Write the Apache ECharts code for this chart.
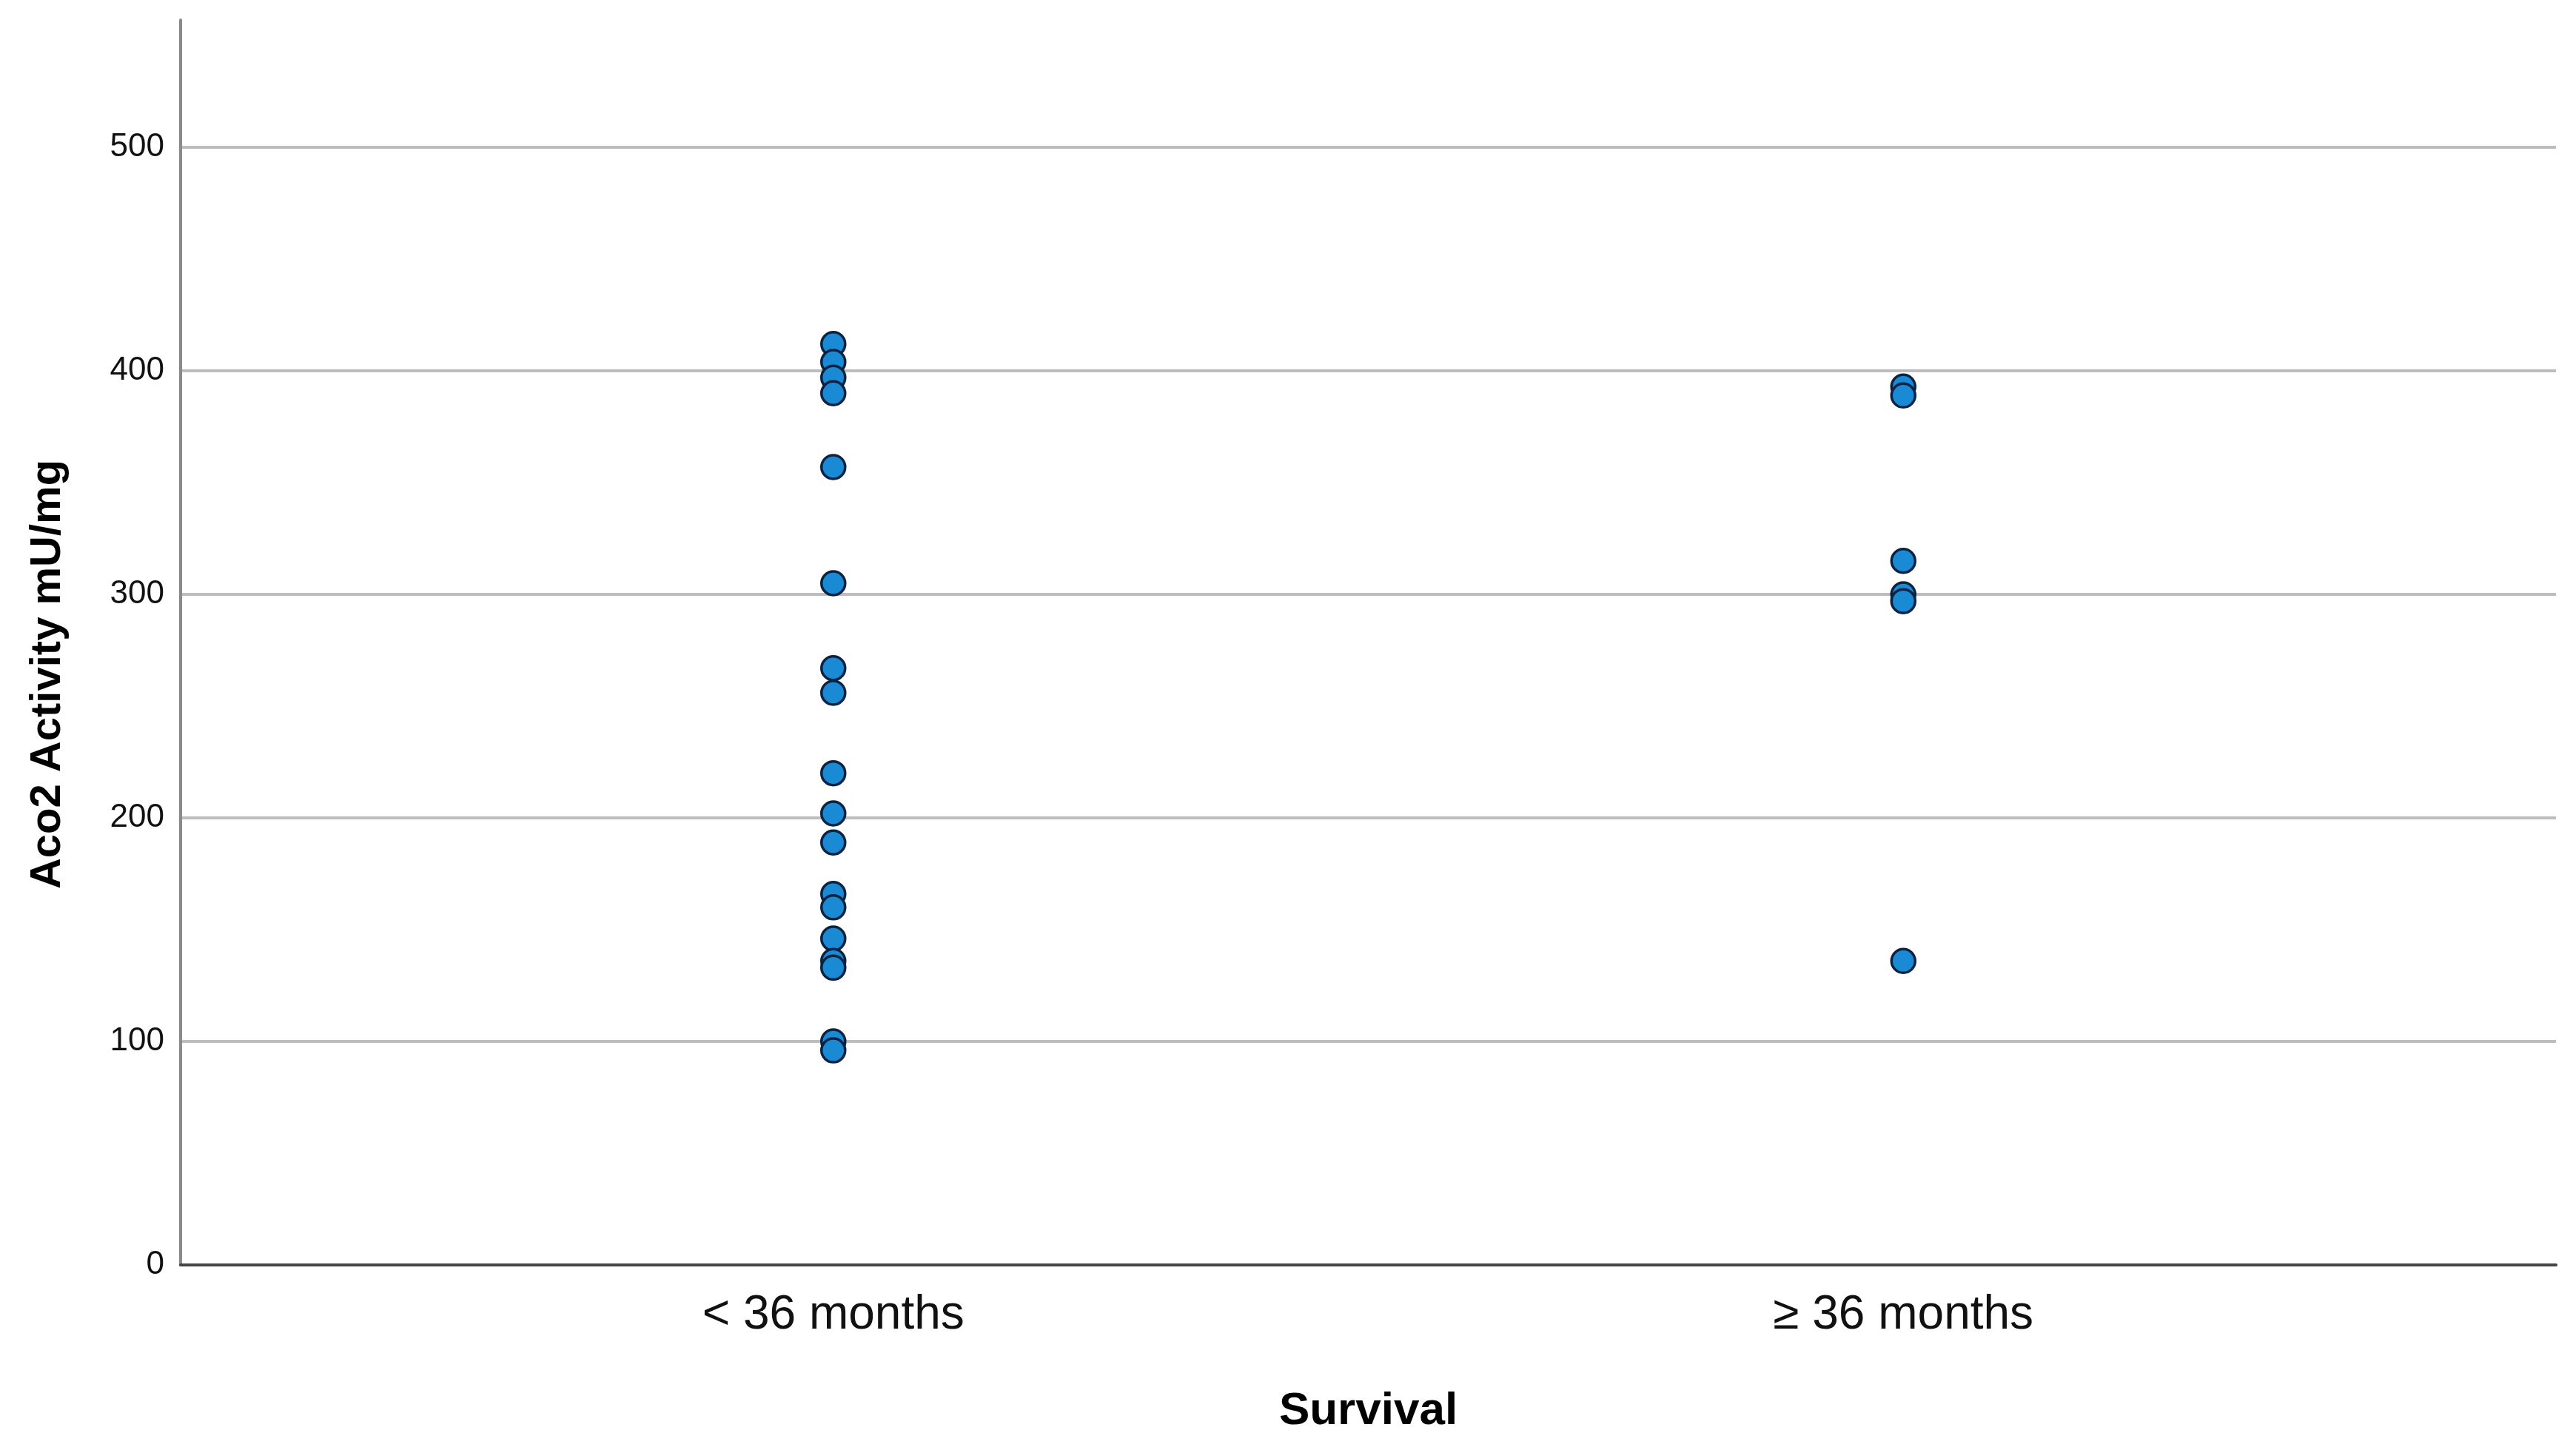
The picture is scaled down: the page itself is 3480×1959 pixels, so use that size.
<!DOCTYPE html>
<html>
<head>
<meta charset="utf-8">
<script src="https://cdn.jsdelivr.net/npm/echarts@6/dist/echarts.min.js"></script>
<style>
html,body{margin:0;padding:0;background:#fff;}
#chart{width:3480px;height:1959px;}
</style>
</head>
<body>
<div id="chart"></div>
<script>
// Data
const categories = ['< 36 months', '\u2265 36 months'];
const shortSurvival = [412, 404, 397, 390, 357, 305, 267, 256, 220, 202, 189, 166, 160, 146, 136, 133, 100, 96];
const longSurvival = [393, 389, 315, 300, 297, 136];
const yTicks = [0, 100, 200, 300, 400, 500];

const groups = [shortSurvival, longSurvival];
const points = [];
groups.forEach((vals, gi) => vals.forEach(v => points.push([gi + 1, v])));

const font = "'Liberation Sans', Arial, sans-serif";
const chart = echarts.init(document.getElementById('chart'), null, {renderer: 'canvas'});
chart.setOption({
  backgroundColor: '#ffffff',
  animation: false,
  grid: {left: 244, right: 27, top: 27, bottom: 250, containLabel: false},
  xAxis: {
    type: 'value',
    min: 0.39,
    max: 2.61,
    name: 'Survival',
    nameLocation: 'middle',
    nameGap: 167,
    nameTextStyle: {fontFamily: font, fontSize: 62, fontWeight: 'bold', color: '#000'},
    axisLine: {show: true, lineStyle: {color: '#444444', width: 4}},
    axisTick: {show: false},
    splitLine: {show: false},
    axisLabel: {
      customValues: [1, 2],
      margin: 36,
      fontFamily: font,
      fontSize: 64,
      color: '#111',
      formatter: v => categories[Math.round(v) - 1] || ''
    }
  },
  yAxis: {
    type: 'value',
    min: 0,
    max: 557,
    interval: 100,
    name: 'Aco2 Activity mU/mg',
    nameLocation: 'middle',
    nameGap: 150,
    nameRotate: 90,
    nameTextStyle: {fontFamily: font, fontSize: 58, fontWeight: 'bold', color: '#000', padding: [0, 86, 0, 0]},
    axisLine: {show: true, lineStyle: {color: '#8a8a8a', width: 4}},
    axisTick: {show: false},
    axisLabel: {
      customValues: yTicks,
      margin: 22,
      fontFamily: font,
      fontSize: 44,
      color: '#111'
    },
    splitLine: {show: true, showMinLine: false, showMaxLine: false, lineStyle: {color: '#bdbdbd', width: 4}}
  },
  series: [{
    type: 'scatter',
    data: points,
    symbol: 'circle',
    symbolSize: 32,
    itemStyle: {color: '#1a8ad4', borderColor: '#0b2340', borderWidth: 3.5, opacity: 1}
  }]
});
</script>
</body>
</html>
